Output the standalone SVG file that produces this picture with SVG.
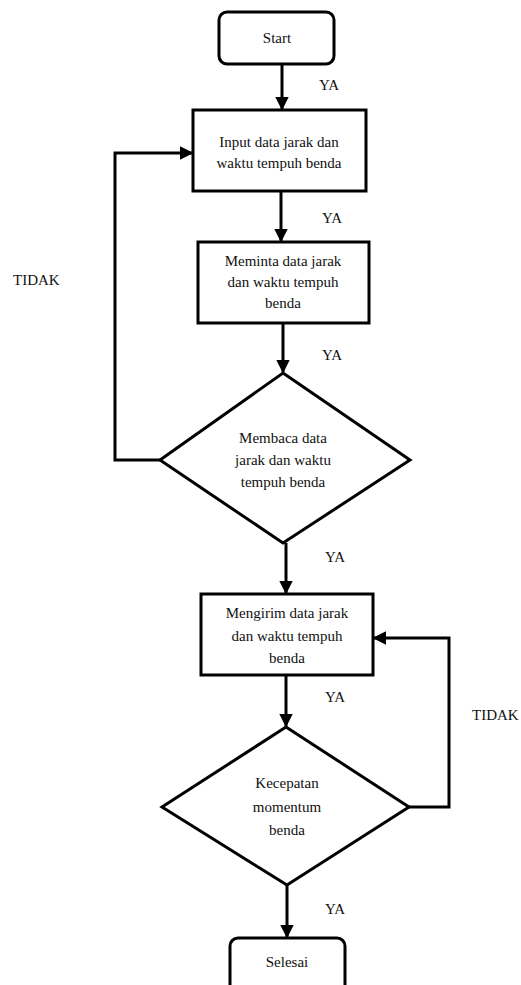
<svg xmlns="http://www.w3.org/2000/svg" width="521" height="985" viewBox="0 0 521 985">
<style>
.s{fill:#fff;stroke:#000;stroke-width:3}
.c{fill:none;stroke:#000;stroke-width:3}
text{font-family:"Liberation Serif","Times New Roman",serif;font-size:15px;fill:#111;text-anchor:middle}
.l{text-anchor:start}
</style>
<defs>
<marker id="a" viewBox="0 0 10 10" refX="9" refY="5" markerWidth="4.5" markerHeight="4.5" orient="auto" markerUnits="strokeWidth">
<path d="M0,0 L10,5 L0,10 z" fill="#000"/>
</marker>
</defs>
<g id="connectors">
<line class="c" x1="282" y1="64" x2="282" y2="109" marker-end="url(#a)"/>
<line class="c" x1="281" y1="191" x2="281" y2="241" marker-end="url(#a)"/>
<line class="c" x1="283" y1="323" x2="283" y2="372" marker-end="url(#a)"/>
<polyline class="c" points="160,460 115,460 115,153 192,153" marker-end="url(#a)"/>
<line class="c" x1="286" y1="543" x2="286" y2="593" marker-end="url(#a)"/>
<line class="c" x1="286" y1="675" x2="286" y2="726" marker-end="url(#a)"/>
<polyline class="c" points="409,807 449,807 449,638 374,638" marker-end="url(#a)"/>
<line class="c" x1="287" y1="885" x2="287" y2="937" marker-end="url(#a)"/>
<text class="l" x="319" y="90">YA</text>
<text class="l" x="322" y="223">YA</text>
<text class="l" x="322" y="360">YA</text>
<text class="l" x="325" y="562">YA</text>
<text class="l" x="325" y="702">YA</text>
<text class="l" x="325" y="914">YA</text>
<text class="l" x="13" y="285">TIDAK</text>
<text class="l" x="472" y="720">TIDAK</text>
</g>
<g id="start">
<rect class="s" x="219" y="12" width="115" height="52" rx="8"/>
<text x="277" y="43">Start</text>
</g>
<g id="input">
<rect class="s" x="193" y="110" width="173" height="81"/>
<text x="279" y="147">Input data jarak dan</text>
<text x="279" y="168">waktu tempuh benda</text>
</g>
<g id="meminta">
<rect class="s" x="198" y="242" width="171" height="81"/>
<text x="283" y="266">Meminta data jarak</text>
<text x="283" y="287">dan waktu tempuh</text>
<text x="283" y="308">benda</text>
</g>
<g id="membaca">
<polygon class="s" points="283,373 410,460 283,543 160,460"/>
<text x="283" y="443">Membaca data</text>
<text x="283" y="465">jarak dan waktu</text>
<text x="283" y="487">tempuh benda</text>
</g>
<g id="mengirim">
<rect class="s" x="201" y="594" width="172" height="81"/>
<text x="287" y="618">Mengirim data jarak</text>
<text x="287" y="641">dan waktu tempuh</text>
<text x="287" y="663">benda</text>
</g>
<g id="kecepatan">
<polygon class="s" points="286,727 409,807 287,885 162,807"/>
<text x="287" y="788">Kecepatan</text>
<text x="287" y="812">momentum</text>
<text x="287" y="835">benda</text>
</g>
<g id="selesai">
<rect class="s" x="230" y="938" width="115" height="60" rx="8"/>
<text x="287" y="967">Selesai</text>
</g>
</svg>
